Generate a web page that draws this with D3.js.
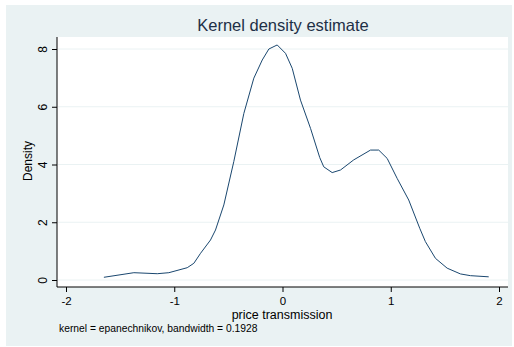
<!DOCTYPE html>
<html>
<head>
<meta charset="utf-8">
<script src="https://cdn.jsdelivr.net/npm/d3@7"></script>
<style>
  body { margin: 0; background: #fff; }
  text { font-family: "Liberation Sans", Arial, sans-serif; }
</style>
</head>
<body>
<div id="chart-area"></div>
<script>
// SVG Size
var width = 514,
	height = 347;

// density estimate
var xVals = [-1.65, -1.373, -1.157, -1.05, -0.88, -0.819, -0.757, -0.665, -0.619, -0.542,
	-0.45, -0.357, -0.265, -0.187, -0.126, -0.049, 0.028, 0.09, 0.166, 0.259,
	0.344, 0.381, 0.459, 0.536, 0.658, 0.813, 0.889, 0.967, 1.059, 1.166,
	1.268, 1.32, 1.413, 1.521, 1.644, 1.736, 1.905];
var densVals = [0.094, 0.253, 0.218, 0.253, 0.426, 0.578, 0.925, 1.385, 1.73, 2.6,
	4.1, 5.77, 6.99, 7.62, 8.0, 8.14, 7.85, 7.33, 6.23, 5.25,
	4.24, 3.92, 3.72, 3.81, 4.16, 4.5, 4.5, 4.21, 3.52, 2.77,
	1.79, 1.33, 0.75, 0.41, 0.21, 0.15, 0.11];
var xTicks = [-2, -1, 0, 1, 2];
var yTicks = [0, 2, 4, 6, 8];

var data = xVals.map(function(x, i) { return { x: x, y: densVals[i] }; });

var svg = d3.select("#chart-area")
	.append("svg")
	.attr("width", width)
	.attr("height", height);

// outer graph region
svg.append("rect")
	.attr("x", 6).attr("y", 5)
	.attr("width", 506).attr("height", 341)
	.attr("fill", "#eaf2f3");

// plot region
var plot = { left: 57, right: 508, top: 37, bottom: 287 };
svg.append("rect")
	.attr("x", plot.left).attr("y", plot.top)
	.attr("width", plot.right - plot.left).attr("height", plot.bottom - plot.top)
	.attr("fill", "#ffffff");

var xScale = d3.scaleLinear().domain([-2, 2]).range([66, 499]);
var yScale = d3.scaleLinear().domain([0, 8]).range([280, 49]);

// grid lines
svg.selectAll(".grid")
	.data(yTicks)
	.enter()
	.append("line")
	.attr("x1", plot.left + 1).attr("x2", plot.right)
	.attr("y1", function(d) { return yScale(d); })
	.attr("y2", function(d) { return yScale(d); })
	.attr("stroke", "#eaf2f3")
	.attr("stroke-width", 1);

// density line
var line = d3.line()
	.x(function(d) { return xScale(d.x); })
	.y(function(d) { return yScale(d.y); });

svg.append("path")
	.datum(data)
	.attr("d", line)
	.attr("fill", "none")
	.attr("stroke", "#1a476f")
	.attr("stroke-width", 1);

// axes
var plainFmt = function(d) { return String(d); };
var xAxis = d3.axisBottom(xScale).tickValues(xTicks).tickFormat(plainFmt).tickSize(5).tickPadding(3).tickSizeOuter(0);
var yAxis = d3.axisLeft(yScale).tickValues(yTicks).tickFormat(plainFmt).tickSize(5).tickPadding(3).tickSizeOuter(0);

var gx = svg.append("g")
	.attr("transform", "translate(0," + plot.bottom + ")")
	.call(xAxis);
gx.select(".domain").remove();
gx.append("line")
	.attr("x1", plot.left).attr("x2", plot.right)
	.attr("stroke", "#000");
gx.selectAll("text")
	.attr("font-size", 11.5)
	.attr("fill", "#000")
	.attr("font-family", "Liberation Sans, Arial, sans-serif")
	.attr("dy", null)
	.attr("y", 18);

var gy = svg.append("g")
	.attr("transform", "translate(" + plot.left + ",0)")
	.call(yAxis);
gy.select(".domain").remove();
gy.append("line")
	.attr("y1", plot.top).attr("y2", plot.bottom)
	.attr("stroke", "#000");
gy.selectAll(".tick text")
	.attr("font-size", 12)
	.attr("fill", "#000")
	.attr("font-family", "Liberation Sans, Arial, sans-serif")
	.attr("text-anchor", "middle")
	.attr("dy", null)
	.attr("x", null)
	.attr("transform", "translate(-13,0) rotate(-90)")
	.attr("dominant-baseline", "middle");

// title and labels
svg.append("text")
	.attr("x", 283).attr("y", 31)
	.attr("text-anchor", "middle")
	.attr("font-size", 16.5)
	.attr("fill", "#1e2f46")
	.text("Kernel density estimate");

svg.append("text")
	.attr("x", 282).attr("y", 318.5)
	.attr("text-anchor", "middle")
	.attr("font-size", 12.5)
	.attr("fill", "#000")
	.text("price transmission");

svg.append("text")
	.attr("transform", "translate(32,161) rotate(-90)")
	.attr("text-anchor", "middle")
	.attr("font-size", 12)
	.attr("fill", "#000")
	.text("Density");

svg.append("text")
	.attr("x", 59).attr("y", 332)
	.attr("font-size", 10.3)
	.attr("fill", "#000")
	.text("kernel = epanechnikov, bandwidth = 0.1928");
</script>
</body>
</html>
